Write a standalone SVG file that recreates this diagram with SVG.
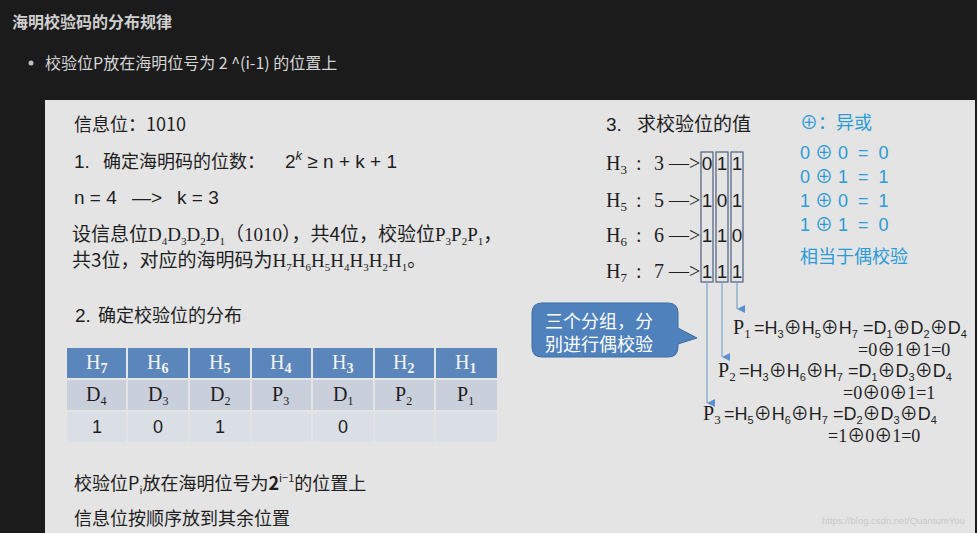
<svg xmlns="http://www.w3.org/2000/svg" width="977" height="533" viewBox="0 0 977 533">
<defs>
<style>
.cjk{font-family:"Noto Sans CJK SC",sans-serif}
.sr{font-family:"Liberation Serif","Noto Sans CJK SC",serif}
.sn{font-family:"Liberation Sans","Noto Sans CJK SC",sans-serif}
.dk{fill:#1e1e1e}
.bl{fill:#2b9bd6}
.hd{fill:#5b86bb}
.r2{fill:#c9d0dc}
.r3{fill:#dadee5}
.colbox{fill:none;stroke:#4d627e;stroke-width:1.2}
.conn{stroke:#7aa3cf;stroke-width:1.2;fill:none}
</style>
<marker id="ah" viewBox="0 0 10 10" refX="5" refY="10" markerWidth="8" markerHeight="8" orient="auto-start-reverse" markerUnits="userSpaceOnUse">
<path d="M0,0 L10,0 L5,10 Z" fill="#5b8fd0"/>
</marker>
</defs>
<rect x="0" y="0" width="977" height="533" fill="#1b1b1b"/>
<g id="page-header">
<text x="12" y="28" class="cjk" font-size="16" font-weight="bold" fill="#cfcfcf">海明校验码的分布规律</text>
<circle cx="31" cy="63" r="2.5" fill="#bdbdbd"/>
<text x="45" y="69" class="cjk" font-size="16" fill="#d6d6d6">校验位P放在海明位号为 2 ^(i-1) 的位置上</text>
</g>
<rect id="slide" x="45" y="100" width="930" height="433" fill="#e4e4e4"/>

<g id="info" class="dk">
<text x="74" y="131" class="cjk" font-size="18">信息位：1010</text>
</g>
<g id="step1" class="dk">
<text x="74" y="168" class="sn" font-size="19">1.</text>
<text x="103" y="168" class="cjk" font-size="18">确定海明码的位数：</text>
<text x="285" y="168" class="sn" font-size="19">2<tspan font-size="13" dy="-8" font-style="italic">k</tspan><tspan dy="8"> ≥ n + k + 1</tspan></text>
<text x="74" y="204" class="sn" font-size="19">n = 4</text>
<text x="132" y="204" class="sn" font-size="19">—&gt;</text>
<text x="177" y="204" class="sn" font-size="19">k = 3</text>
<text x="72" y="241" class="sr" font-size="19"><tspan class="cjk">设信息位</tspan>D<tspan font-size="11" dy="4">4</tspan><tspan dy="-4">D</tspan><tspan font-size="11" dy="4">3</tspan><tspan dy="-4">D</tspan><tspan font-size="11" dy="4">2</tspan><tspan dy="-4">D</tspan><tspan font-size="11" dy="4">1</tspan><tspan dy="-4" class="cjk">（</tspan>1010<tspan class="cjk">），共4位，校验位</tspan>P<tspan font-size="11" dy="4">3</tspan><tspan dy="-4">P</tspan><tspan font-size="11" dy="4">2</tspan><tspan dy="-4">P</tspan><tspan font-size="11" dy="4">1</tspan><tspan dy="-4" class="cjk">，</tspan></text>
<text x="72" y="267" class="sr" font-size="19"><tspan class="cjk">共3位，对应的海明码为</tspan>H<tspan font-size="11" dy="4">7</tspan><tspan dy="-4">H</tspan><tspan font-size="11" dy="4">6</tspan><tspan dy="-4">H</tspan><tspan font-size="11" dy="4">5</tspan><tspan dy="-4">H</tspan><tspan font-size="11" dy="4">4</tspan><tspan dy="-4">H</tspan><tspan font-size="11" dy="4">3</tspan><tspan dy="-4">H</tspan><tspan font-size="11" dy="4">2</tspan><tspan dy="-4">H</tspan><tspan font-size="11" dy="4">1</tspan><tspan dy="-4" class="cjk">。</tspan></text>
</g>
<g id="step2" class="dk">
<text x="75" y="322" class="sn" font-size="19">2.</text>
<text x="98" y="322" class="cjk" font-size="18">确定校验位的分布</text>
</g>
<g id="table">
<rect class="hd" x="67" y="348" width="59" height="30"/><rect class="hd" x="128" y="348" width="60" height="30"/><rect class="hd" x="190" y="348" width="60" height="30"/><rect class="hd" x="252" y="348" width="59" height="30"/><rect class="hd" x="313" y="348" width="60" height="30"/><rect class="hd" x="375" y="348" width="59" height="30"/><rect class="hd" x="436" y="348" width="61" height="30"/>
<rect class="r2" x="67" y="380" width="59" height="30"/><rect class="r2" x="128" y="380" width="60" height="30"/><rect class="r2" x="190" y="380" width="60" height="30"/><rect class="r2" x="252" y="380" width="59" height="30"/><rect class="r2" x="313" y="380" width="60" height="30"/><rect class="r2" x="375" y="380" width="59" height="30"/><rect class="r2" x="436" y="380" width="61" height="30"/>
<rect class="r3" x="67" y="412" width="59" height="30"/><rect class="r3" x="128" y="412" width="60" height="30"/><rect class="r3" x="190" y="412" width="60" height="30"/><rect class="r3" x="252" y="412" width="59" height="30"/><rect class="r3" x="313" y="412" width="60" height="30"/><rect class="r3" x="375" y="412" width="59" height="30"/><rect class="r3" x="436" y="412" width="61" height="30"/>
<g class="sr" font-size="20" fill="#f4f4f4">
<text x="86" y="369">H<tspan font-size="14" font-weight="bold" dy="4">7</tspan></text>
<text x="147" y="369">H<tspan font-size="14" font-weight="bold" dy="4">6</tspan></text>
<text x="209" y="369">H<tspan font-size="14" font-weight="bold" dy="4">5</tspan></text>
<text x="270" y="369">H<tspan font-size="14" font-weight="bold" dy="4">4</tspan></text>
<text x="332" y="369">H<tspan font-size="14" font-weight="bold" dy="4">3</tspan></text>
<text x="393" y="369">H<tspan font-size="14" font-weight="bold" dy="4">2</tspan></text>
<text x="455" y="369">H<tspan font-size="14" font-weight="bold" dy="4">1</tspan></text>
</g>
<g class="sr" font-size="20" fill="#1e1e1e">
<text x="86" y="401">D<tspan font-size="12" dy="4">4</tspan></text>
<text x="148" y="401">D<tspan font-size="12" dy="4">3</tspan></text>
<text x="210" y="401">D<tspan font-size="12" dy="4">2</tspan></text>
<text x="272" y="401">P<tspan font-size="12" dy="4">3</tspan></text>
<text x="333" y="401">D<tspan font-size="12" dy="4">1</tspan></text>
<text x="395" y="401">P<tspan font-size="12" dy="4">2</tspan></text>
<text x="457" y="401">P<tspan font-size="12" dy="4">1</tspan></text>
</g>
<g class="sn" font-size="18" fill="#1e1e1e" text-anchor="middle">
<text x="97" y="433">1</text>
<text x="158" y="433">0</text>
<text x="220" y="433">1</text>
<text x="343" y="433">0</text>
</g>
</g>
<g id="rules" class="dk">
<text x="74" y="490" class="cjk" font-size="18">校验位P<tspan font-size="11" dy="4">i</tspan><tspan dy="-4">放在海明位号为</tspan><tspan font-weight="bold">2</tspan><tspan font-size="11" dy="-8">i−1</tspan><tspan dy="8">的位置上</tspan></text>
<text x="74" y="525" class="cjk" font-size="18">信息位按顺序放到其余位置</text>
</g>

<g id="step3" class="dk">
<text x="606" y="131" class="sn" font-size="19">3.</text>
<text x="637" y="131" class="cjk" font-size="19">求校验位的值</text>
</g>
<g id="xor-note" class="bl">
<text x="800" y="129" class="cjk" font-size="18">⊕：异或</text>
<text x="800" y="159" class="sn" font-size="18" xml:space="preserve">0 ⊕ 0  =  0</text>
<text x="800" y="183" class="sn" font-size="18" xml:space="preserve">0 ⊕ 1  =  1</text>
<text x="800" y="207" class="sn" font-size="18" xml:space="preserve">1 ⊕ 0  =  1</text>
<text x="800" y="231" class="sn" font-size="18" xml:space="preserve">1 ⊕ 1  =  0</text>
<text x="800" y="263" class="cjk" font-size="18">相当于偶校验</text>
</g>
<g id="hrows" fill="#1e1e1e" font-size="20">
<text x="606" y="170" class="sr">H<tspan font-size="13" dy="4">3</tspan></text>
<text x="606" y="207" class="sr">H<tspan font-size="13" dy="4">5</tspan></text>
<text x="606" y="242" class="sr">H<tspan font-size="13" dy="4">6</tspan></text>
<text x="606" y="278" class="sr">H<tspan font-size="13" dy="4">7</tspan></text>
<g class="sr"><text x="636" y="170">:</text><text x="636" y="207">:</text><text x="636" y="242">:</text><text x="636" y="278">:</text></g>
<g class="sr"><text x="654" y="170">3 —&gt;</text><text x="654" y="207">5 —&gt;</text><text x="654" y="242">6 —&gt;</text><text x="654" y="278">7 —&gt;</text></g>
<g class="sn" text-anchor="middle" font-size="19">
<text x="707" y="170">0</text><text x="722" y="170">1</text><text x="737" y="170">1</text>
<text x="707" y="207">1</text><text x="722" y="207">0</text><text x="737" y="207">1</text>
<text x="707" y="242">1</text><text x="722" y="242">1</text><text x="737" y="242">0</text>
<text x="707" y="278">1</text><text x="722" y="278">1</text><text x="737" y="278">1</text>
</g>
</g>
<g id="col-groups">
<rect class="colbox" x="701" y="152" width="12" height="130"/>
<rect class="colbox" x="716" y="152" width="12" height="130"/>
<rect class="colbox" x="731" y="152" width="12" height="130"/>
</g>
<g id="connectors">
<line class="conn" x1="707" y1="282" x2="707" y2="403" marker-end="url(#ah)"/>
<line class="conn" x1="722" y1="282" x2="722" y2="357" marker-end="url(#ah)"/>
<line class="conn" x1="737" y1="282" x2="737" y2="309" marker-end="url(#ah)"/>
</g>
<g id="p1" fill="#1e1e1e">
<text x="733" y="334" class="sr" font-size="20">P<tspan font-size="13" dy="4">1</tspan></text>
<text x="754" y="334" class="sn" font-size="18">=H<tspan font-size="11" dy="4">3</tspan><tspan dy="-4">⊕H</tspan><tspan font-size="11" dy="4">5</tspan><tspan dy="-4">⊕H</tspan><tspan font-size="11" dy="4">7</tspan><tspan dy="-4"> =D</tspan><tspan font-size="11" dy="4">1</tspan><tspan dy="-4">⊕D</tspan><tspan font-size="11" dy="4">2</tspan><tspan dy="-4">⊕D</tspan><tspan font-size="11" dy="4">4</tspan></text>
<text x="858" y="356" class="sr" font-size="18">=0⊕1⊕1=0</text>
</g>
<g id="p2" fill="#1e1e1e">
<text x="718" y="377" class="sr" font-size="20">P<tspan font-size="13" dy="4">2</tspan></text>
<text x="739" y="377" class="sn" font-size="18">=H<tspan font-size="11" dy="4">3</tspan><tspan dy="-4">⊕H</tspan><tspan font-size="11" dy="4">6</tspan><tspan dy="-4">⊕H</tspan><tspan font-size="11" dy="4">7</tspan><tspan dy="-4"> =D</tspan><tspan font-size="11" dy="4">1</tspan><tspan dy="-4">⊕D</tspan><tspan font-size="11" dy="4">3</tspan><tspan dy="-4">⊕D</tspan><tspan font-size="11" dy="4">4</tspan></text>
<text x="843" y="399" class="sr" font-size="18">=0⊕0⊕1=1</text>
</g>
<g id="p3" fill="#1e1e1e">
<text x="703" y="420" class="sr" font-size="20">P<tspan font-size="13" dy="4">3</tspan></text>
<text x="724" y="420" class="sn" font-size="18">=H<tspan font-size="11" dy="4">5</tspan><tspan dy="-4">⊕H</tspan><tspan font-size="11" dy="4">6</tspan><tspan dy="-4">⊕H</tspan><tspan font-size="11" dy="4">7</tspan><tspan dy="-4"> =D</tspan><tspan font-size="11" dy="4">2</tspan><tspan dy="-4">⊕D</tspan><tspan font-size="11" dy="4">3</tspan><tspan dy="-4">⊕D</tspan><tspan font-size="11" dy="4">4</tspan></text>
<text x="828" y="442" class="sr" font-size="18">=1⊕0⊕1=0</text>
</g>
<g id="callout">
<path d="M542,303 H668 Q678,303 678,313 V328 L697,338 L678,344 V347 Q678,357 668,357 H542 Q532,357 532,347 V313 Q532,303 542,303 Z" fill="#4f81bd" stroke="#3f6d9f" stroke-width="1"/>
<text x="545" y="328" class="cjk" font-size="18" fill="#ffffff">三个分组，分</text>
<text x="545" y="351" class="cjk" font-size="18" fill="#ffffff">别进行偶校验</text>
</g>
<text x="822" y="524" class="sn" font-size="9.5" fill="#c9c9c9">https://blog.csdn.net/QuantumYou</text>
</svg>
